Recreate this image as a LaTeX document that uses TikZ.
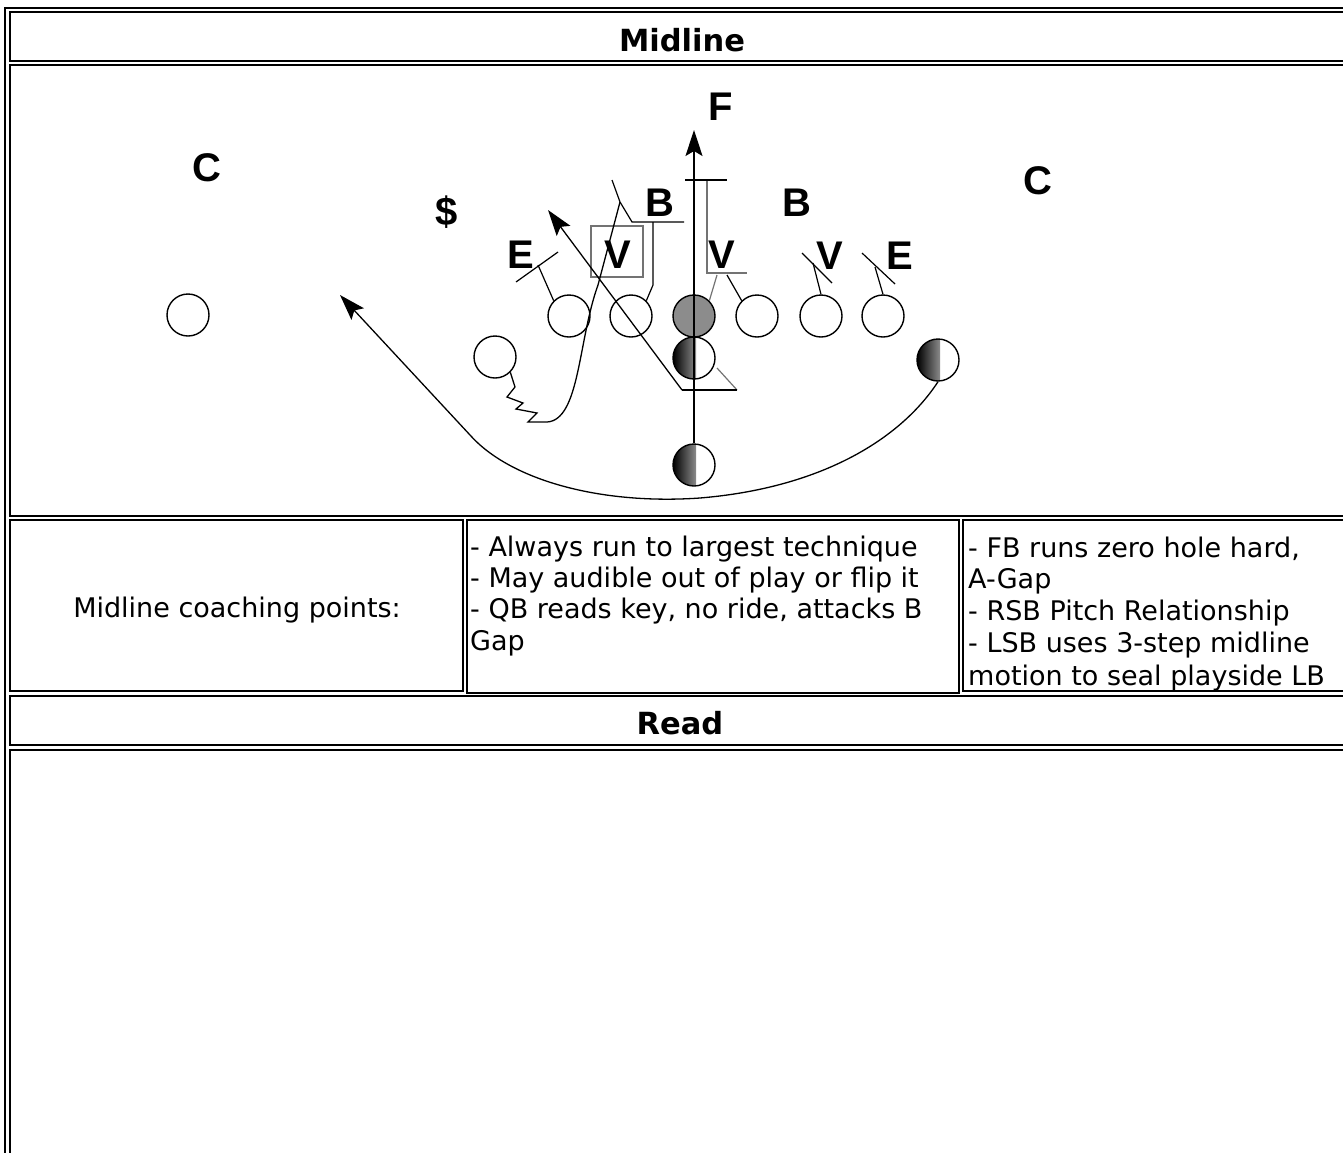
\documentclass[tikz,border=0pt]{standalone}
\usepackage{fontspec}
\setmainfont{DejaVu Sans}
\newfontfamily\lettfont{Liberation Sans}
\usetikzlibrary{arrows.meta}
\begin{document}
\begin{tikzpicture}[x=1pt,y=-1pt,
  cellbox/.style={draw, line width=1.4pt},
  outerbox/.style={draw, line width=1.8pt},
  player/.style={circle, draw, line width=1.4pt, minimum size=42pt, inner sep=0pt},
  halfball/.style={player, path picture={\shade[left color=black, right color=white] (path picture bounding box.south west) rectangle ([xshift=2pt]path picture bounding box.north);}},
  letter/.style={font=\lettfont\bfseries\fontsize{40}{40}\selectfont, inner sep=0pt},
  bodytxt/.style={font=\fontsize{27}{32}\selectfont, inner sep=0pt},
  headtxt/.style={font=\bfseries\fontsize{30.5}{30}\selectfont, inner sep=0pt},
  route/.style={line width=1.3pt},
  blk/.style={line width=1.2pt},
  graybk/.style={line width=1.2pt, draw=black!55},
  tip/.style={-{Stealth[length=26pt,width=17pt,inset=5pt]}}
]
\useasboundingbox (0,0) rectangle (1343,1152);
\clip (0,0) rectangle (1343,1152);
\fill[white] (0,0) rectangle (1343,1152);

% table
\draw[outerbox] (5,8) rectangle (1400,1300);
\draw[cellbox] (10,12) rectangle (1395,61);
\draw[cellbox] (10,65) rectangle (1395,516);
\draw[cellbox] (10,520) rectangle (463,691);
\draw[cellbox] (467,520) rectangle (959,693);
\draw[cellbox] (963,520) rectangle (1395,691);
\draw[cellbox] (10,696) rectangle (1395,745);
\draw[cellbox] (10,750) rectangle (1395,1290);

\node[headtxt] (h1) at (682,40) {Midline};
\node[headtxt] (h2) at (680,723) {Read};

\node[bodytxt, anchor=base] (cp) at (237,617) {Midline coaching points:};
\node[bodytxt, anchor=base west] (m1) at (470,556) {- Always run to largest technique};
\node[bodytxt, anchor=base west] (m2) at (470,587) {- May audible out of play or flip it};
\node[bodytxt, anchor=base west] (m3) at (470,618) {- QB reads key, no ride, attacks B};
\node[bodytxt, anchor=base west] (m4) at (470,650) {Gap};
\node[bodytxt, anchor=base west] (r1) at (968,557) {- FB runs zero hole hard,};
\node[bodytxt, anchor=base west] (r2) at (968,588) {A-Gap};
\node[bodytxt, anchor=base west] (r3) at (968,620) {- RSB Pitch Relationship};
\node[bodytxt, anchor=base west] (r4) at (968,652) {- LSB uses 3-step midline};
\node[bodytxt, anchor=base west] (r5) at (968,685) {motion to seal playside LB};

% defense letters
\node[letter] (c1) at (207,168) {C};
\node[letter] (c2) at (1038,181) {C};
\node[letter] (ss) at (447,212) {\$};
\node[letter] (b1) at (660,203) {B};
\node[letter] (b2) at (797,203) {B};
\node[letter] (e1) at (521,255) {E};
\node[letter] (v1) at (618,255) {V};
\node[letter] (v2) at (722,255) {V};
\node[letter] (v3) at (830,256) {V};
\node[letter] (e2) at (900,256) {E};
\node[letter] (f) at (721,107) {F};

% offense
\node[player] (wr) at (188,315) {};
\node[player] (lt) at (569,316) {};
\node[player] (lg) at (631,316) {};
\node[player, fill=black!45] (ce) at (694,316) {};
\node[player] (rg) at (757,316) {};
\node[player] (rt) at (821,316) {};
\node[player] (te) at (883,316) {};
\node[player] (lsb) at (495,357) {};
\node[halfball] (qb) at (694,358) {};
\node[halfball] (rsb) at (938,360) {};
\node[halfball] (fb) at (694,465) {};

% V box
\draw[graybk] (591,226) rectangle (643,277);

% FB dive
\coordinate (ftip) at (694,130);
\draw[route, tip] (fb.north) -- (ftip);

% QB path
\coordinate (qa) at (717,368);
\coordinate (qb1) at (737,390);
\coordinate (qc) at (682,390);
\coordinate (qtip) at (548,210);
\draw[graybk] (qa) -- (qb1);
\draw[route] (qb1) -- (qc);
\draw[route, tip] (qc) -- (qtip);

% pitch path
\coordinate (ptip) at (340,295);
\draw[route, tip] (rsb.south) .. controls (900,440) and (820,488) .. (700,498)
   .. controls (600,505) and (510,480) .. (470,435) -- (ptip);

% LSB motion
\coordinate (lend) at (620,202);
\draw[route] (lsb.south east) -- (515,387) -- (507,397) -- (523,403) -- (516,409)
   -- (537,413) -- (528,422) -- (547,422)
   .. controls (580,420) and (578,340) .. (598,285) -- (lend);
\draw[blk] (612,180) -- (lend) -- (632,222) -- (684,222);
% left guard block
\draw[blk] (lg.north east) -- (653,285) -- (653,222);
% left tackle on E
\draw[blk] (lt.north west) -- (538,265);
\draw[blk] (516,282) -- (558,252);
% center / right guard combo
\draw[graybk] (707,180) -- (707,273) -- (747,273);
\draw[blk] (685,180) -- (727,180);
\draw[graybk] (ce.north east) -- (717,275);
\draw[blk] (727,275) -- (rg.north west);
% right tackle
\draw[blk] (rt.north) -- (813,263);
\draw[blk] (802,253) -- (832,283);
% right end
\draw[blk] (te.north) -- (875,267);
\draw[blk] (862,253) -- (895,284);
\end{tikzpicture}
\end{document}
